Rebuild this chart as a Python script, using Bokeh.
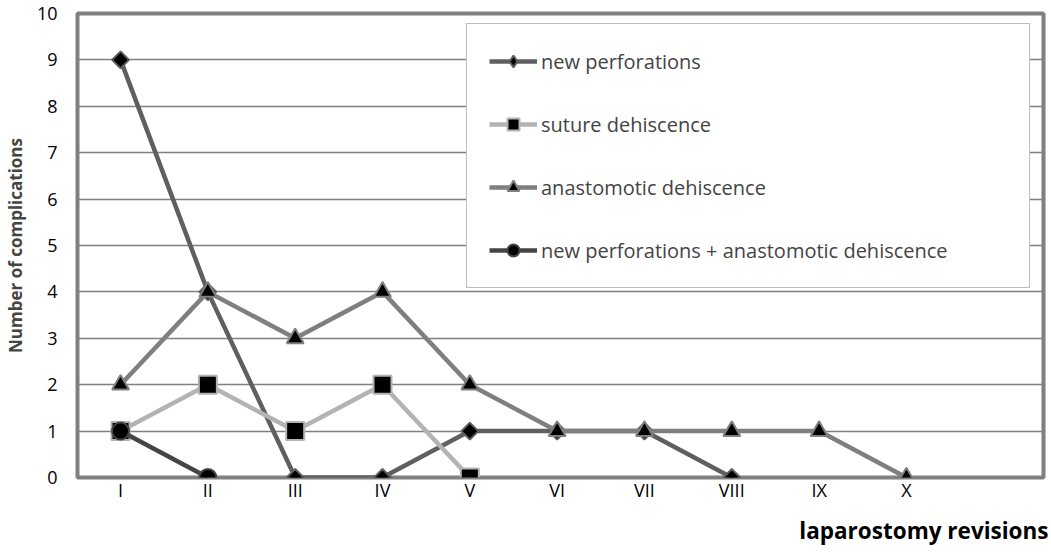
import math
from bokeh.plotting import figure
from bokeh.models import FixedTicker, Legend, LegendItem, Range1d, Title
from bokeh.embed import file_html
from bokeh.resources import INLINE

categories = ["I", "II", "III", "IV", "V", "VI", "VII", "VIII", "IX", "X"]
new_perforations = [9, 4, 0, 0, 1, 1, 1, 0]
suture_dehiscence = [1, 2, 1, 2, 0]
anastomotic_dehiscence = [2, 4, 3, 4, 2, 1, 1, 1, 1, 0]
new_perf_plus_anast = [1, 0]
y_ticks = [0, 1, 2, 3, 4, 5, 6, 7, 8, 9, 10]

FONT = "Open Sans"

p = figure(width=1048, height=554, output_backend="svg", toolbar_location=None,
           x_range=Range1d(0.507, 11.57), y_range=Range1d(0, 10),
           min_border_left=76, min_border_right=5, min_border_top=13, min_border_bottom=77)

p.outline_line_color = "#808080"
p.outline_line_width = 4
p.background_fill_color = "white"
p.border_fill_color = "white"
p.xgrid.visible = False
p.ygrid.grid_line_color = "#808080"
p.ygrid.grid_line_width = 1.5
p.ygrid.ticker = FixedTicker(ticks=y_ticks)

xpos = list(range(1, len(categories) + 1))
p.xaxis.ticker = FixedTicker(ticks=xpos)
p.xaxis.major_label_overrides = {i: c for i, c in zip(xpos, categories)}
p.yaxis.ticker = FixedTicker(ticks=y_ticks)
for ax in (p.xaxis, p.yaxis):
    ax.axis_line_color = None
    ax.major_tick_line_color = None
    ax.minor_tick_line_color = None
    ax.major_tick_out = 0
    ax.major_tick_in = 0
    ax.minor_tick_out = 0
    ax.major_label_text_font = FONT
    ax.major_label_text_font_size = "18px"
    ax.major_label_text_color = "black"
p.xaxis.major_label_standoff = 0
p.yaxis.major_label_standoff = 20
p.yaxis.axis_label = "Number of complications"
p.yaxis.axis_label_text_font = FONT
p.yaxis.axis_label_text_font_size = "17px"
p.yaxis.axis_label_text_font_style = "bold"
p.yaxis.axis_label_standoff = 7

series = [
    ("new perforations", new_perforations, "#5f5f5f", "square", 12, math.pi / 4),
    ("suture dehiscence", suture_dehiscence, "#b3b3b3", "square", 18, 0),
    ("anastomotic dehiscence", anastomotic_dehiscence, "#7f7f7f", "triangle", 17, 0),
    ("new perforations + anastomotic dehiscence", new_perf_plus_anast, "#454545", "circle", 17, 0),
]

items = []
for name, vals, col, mk, sz, ang in series:
    xs = xpos[:len(vals)]
    l = p.line(xs, vals, line_color=col, line_width=4.5)
    rends = [l]
    if ang:
        # diamond drawn beneath the rotated square, so that the legend shows a diamond
        proxy = p.scatter(xs, vals, marker="diamond", size=sz, fill_color="black",
                          line_color=col, line_width=2)
        rends.append(proxy)
    m = p.scatter(xs, vals, marker=mk, size=sz, angle=ang, fill_color="black",
                  line_color=col, line_width=2)
    if not ang:
        rends.append(m)
    items.append(LegendItem(label=name, renderers=rends))

legend = Legend(items=items, location=(389, 189), orientation="vertical",
                glyph_width=48, glyph_height=30, label_height=30, label_width=466,
                spacing=33, padding=22, label_standoff=4, margin=0,
                label_text_font=FONT, label_text_font_size="20px",
                border_line_color="#808080", border_line_width=1.5,
                background_fill_color="white", background_fill_alpha=1.0)
p.add_layout(legend, "center")

t = Title(text="laparostomy revisions", align="right", text_font=FONT,
          text_font_size="22.5px", text_font_style="bold", text_color="black",
          standoff=17, offset=-5)
p.add_layout(t, "below")

open("out.html", "w").write(file_html(p, INLINE))
